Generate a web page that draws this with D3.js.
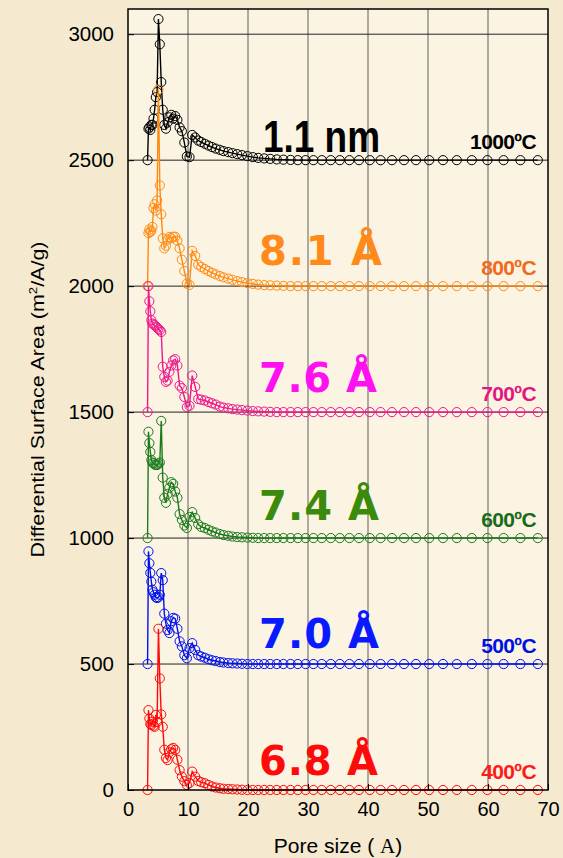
<!DOCTYPE html>
<html>
<head>
<meta charset="utf-8">
<script src="https://cdn.jsdelivr.net/npm/d3@7"></script>
<style>
  body { margin: 0; background: #f5ead0; }
  #chart { width: 563px; height: 858px; }
</style>
</head>
<body>
<div id="chart"></div>
<script>
// pore widths (Å) shared by every curve
const poreSize = [3.26, 3.41, 3.56, 3.72, 3.89, 4.07, 4.25, 4.44, 4.64, 4.85,
    5.07, 5.30, 5.54, 5.79, 6.05, 6.32, 6.60, 6.90, 7.21, 7.53,
    7.87, 8.23, 8.60, 8.98, 9.39, 9.81, 10.25, 10.7, 11.2, 11.7,
    12.2, 12.8, 13.4, 14.0, 14.6, 15.3, 15.9, 16.7, 17.4, 18.2,
    19.0, 19.9, 20.8, 21.7, 22.7, 23.7, 24.8, 25.9, 27.1, 28.3,
    29.6, 30.9, 32.3, 33.8, 35.3, 36.9, 38.5, 40.3, 42.1, 44.0,
    46.0, 48.0, 50.2, 52.5, 54.8, 57.3, 59.9, 62.6, 65.4, 68.3]

// curves are stacked with an offset of 500 each
const area1000 = [2500, 2625, 2630, 2620, 2640, 2640, 2665, 2700, 2750, 2770,
    3060, 2960, 2810, 2700, 2640, 2625, 2650, 2670, 2680, 2665,
    2675, 2660, 2630, 2615, 2570, 2515, 2512, 2600, 2590, 2578,
    2572, 2565, 2558, 2552, 2546, 2541, 2536, 2532, 2528, 2524,
    2520, 2516, 2512, 2509, 2507, 2505, 2503, 2502, 2501, 2500,
    2500, 2500, 2500, 2500, 2500, 2500, 2500, 2500, 2500, 2500,
    2500, 2500, 2500, 2500, 2500, 2500, 2500, 2500, 2500, 2500]
const area800 = [2000, 2210, 2225, 2215, 2220, 2235, 2310, 2325, 2300, 2340,
    2780, 2400, 2285, 2190, 2150, 2160, 2185, 2195, 2190, 2196,
    2196, 2180, 2150, 2105, 2060, 2010, 2005, 2140, 2120, 2085,
    2076, 2068, 2060, 2053, 2047, 2040, 2035, 2030, 2025, 2020,
    2016, 2012, 2009, 2006, 2004, 2003, 2002, 2001, 2000, 2000,
    2000, 2000, 2000, 2000, 2000, 2000, 2000, 2000, 2000, 2000,
    2000, 2000, 2000, 2000, 2000, 2000, 2000, 2000, 2000, 2000]
const area700 = [1500, 2000, 1940, 1900, 1865, 1852, 1848, 1845, 1840, 1835,
    1830, 1825, 1818, 1680, 1640, 1620, 1625, 1660, 1685, 1705,
    1710, 1685, 1605, 1595, 1560, 1520, 1525, 1645, 1600, 1552,
    1549, 1546, 1540, 1535, 1530, 1522, 1518, 1515, 1512, 1510,
    1508, 1506, 1504, 1503, 1502, 1501, 1500, 1500, 1500, 1500,
    1500, 1500, 1500, 1500, 1500, 1500, 1500, 1500, 1500, 1500,
    1500, 1500, 1500, 1500, 1500, 1500, 1500, 1500, 1500, 1500]
const area600 = [1000, 1422, 1377, 1342, 1310, 1300, 1297, 1292, 1290, 1290,
    1295, 1300, 1465, 1240, 1160, 1140, 1175, 1200, 1222, 1215,
    1185, 1160, 1095, 1072, 1050, 1040, 1084, 1103, 1080, 1055,
    1044, 1040, 1033, 1027, 1022, 1016, 1012, 1009, 1006, 1004,
    1003, 1002, 1001, 1000, 1000, 1000, 1000, 1000, 1000, 1000,
    1000, 1000, 1000, 1000, 1000, 1000, 1000, 1000, 1000, 1000,
    1000, 1000, 1000, 1000, 1000, 1000, 1000, 1000, 1000, 1000]
const area500 = [500, 947, 900, 862, 827, 795, 785, 775, 765, 762,
    765, 775, 861, 833, 700, 660, 635, 623, 670, 683,
    680, 640, 590, 570, 535, 523, 563, 583, 556, 535,
    530, 525, 519, 515, 512, 508, 506, 504, 503, 502,
    501, 500, 500, 500, 500, 500, 500, 500, 500, 500,
    500, 500, 500, 500, 500, 500, 500, 500, 500, 500,
    500, 500, 500, 500, 500, 500, 500, 500, 500, 500]
const area400 = [0, 317, 284, 262, 258, 271, 255, 251, 298, 270,
    640, 443, 300, 251, 160, 127, 119, 150, 162, 167,
    159, 120, 79, 53, 35, 20, 28, 73, 53, 36,
    31, 27, 20, 14, 10, 7, 5, 4, 3, 2,
    1, 0, 0, 0, 0, 0, 0, 0, 0, 0,
    0, 0, 0, 0, 0, 0, 0, 0, 0, 0,
    0, 0, 0, 0, 0, 0, 0, 0, 0, 0]

const temps = ["1000ºC", "800ºC", "700ºC", "600ºC", "500ºC", "400ºC"]
const baseValues = [2500, 2000, 1500, 1000, 500, 0]
const poreLabels = ["1.1 nm", "8.1 Å", "7.6 Å", "7.4 Å", "7.0 Å", "6.8 Å"]
const allSeries = [area1000, area800, area700, area600, area500, area400]

const xTicks = [0, 10, 20, 30, 40, 50, 60, 70]
const yTicks = [0, 500, 1000, 1500, 2000, 2500, 3000]

const lineColors = ["#000000", "#ff8a10", "#f0168c", "#1c7a1c", "#0010f0", "#ff0a0a"]
const tempColors = ["#000000", "#f06a1c", "#e4177f", "#1a6a1a", "#0010e0", "#ff1a1a"]
const bigColors = ["#000000", "#ff8a1a", "#ff10f0", "#3c8a0c", "#0a1aff", "#ff0a0a"]

const width = 563
const height = 858
const margin = {top: 9, right: 15, bottom: 68, left: 128}

let svg
let x
let y

document.addEventListener("DOMContentLoaded", setup)

function setup() {
    svg = d3.select("#chart").append("svg")
        .attr("width", width)
        .attr("height", height)

    x = d3.scaleLinear().domain([0, 70]).range([margin.left, width - margin.right])
    y = d3.scaleLinear().domain([0, 3100]).range([height - margin.bottom, margin.top])

    drawFrame()
    drawCurves()
    drawLabels()
    drawAxes()
}

function drawFrame() {
    svg.append("rect")
        .attr("x", x(0)).attr("y", y(3100))
        .attr("width", x(70) - x(0)).attr("height", y(0) - y(3100))
        .attr("fill", "#fbf4e3")

    svg.append("g")
        .selectAll("line")
        .data(xTicks.slice(1, -1))
        .enter()
        .append("line")
        .attr("x1", d => x(d)).attr("x2", d => x(d))
        .attr("y1", y(0)).attr("y2", y(3100))
        .attr("stroke", "#3a3a3a")
        .attr("stroke-width", 0.8)

    svg.append("g")
        .selectAll("line")
        .data(yTicks.slice(1))
        .enter()
        .append("line")
        .attr("x1", x(0)).attr("x2", x(70))
        .attr("y1", d => y(d)).attr("y2", d => y(d))
        .attr("stroke", "#222")
        .attr("stroke-width", 1)
}

function drawCurves() {
    const line = d3.line()
        .x(d => x(d[0]))
        .y(d => y(d[1]))

    allSeries.forEach((values, i) => {
        const points = poreSize.map((p, k) => [p, values[k]])
        const g = svg.append("g")
        g.append("path")
            .attr("d", line(points))
            .attr("fill", "none")
            .attr("stroke", lineColors[i])
            .attr("stroke-width", 1.4)
        g.selectAll("circle")
            .data(points)
            .enter()
            .append("circle")
            .attr("cx", d => x(d[0]))
            .attr("cy", d => y(d[1]))
            .attr("r", 4.6)
            .attr("fill", "none")
            .attr("stroke", lineColors[i])
            .attr("stroke-width", 1)
    })
}

function drawLabels() {
    // big pore-width labels, offsets in px above each baseline
    const bigOffset = [8, 21, 20, 18, 16, 15]
    const bigLength = [117, 123, 118, 120, 120, 119]
    svg.append("g")
        .selectAll("text")
        .data(poreLabels)
        .enter()
        .append("text")
        .attr("x", (d, i) => i === 0 ? 263 : 259)
        .attr("y", (d, i) => y(baseValues[i]) - bigOffset[i])
        .attr("textLength", (d, i) => bigLength[i])
        .attr("lengthAdjust", (d, i) => i === 0 ? "spacingAndGlyphs" : "spacing")
        .attr("font-family", (d, i) => i === 0 ? "'Liberation Sans', sans-serif" : "'DejaVu Sans', sans-serif")
        .attr("font-weight", "bold")
        .attr("font-size", (d, i) => i === 0 ? 44 : 40)
        .attr("fill", (d, i) => bigColors[i])
        .text(d => d)

    svg.append("g")
        .selectAll("text")
        .data(temps)
        .enter()
        .append("text")
        .attr("x", 536)
        .attr("y", (d, i) => y(baseValues[i]) - 11)
        .attr("text-anchor", "end")
        .attr("font-family", "'Liberation Sans', Arial, sans-serif")
        .attr("font-weight", "bold")
        .attr("font-size", 21)
        .attr("letter-spacing", -0.6)
        .attr("fill", (d, i) => tempColors[i])
        .text(d => d)
}

function drawAxes() {
    const font = "'Liberation Sans', Arial, sans-serif"

    const yAxis = svg.append("g")
        .attr("transform", "translate(" + x(0) + ",0)")
        .call(d3.axisLeft(y).tickValues(yTicks).tickFormat(d3.format("d"))
            .tickSize(-6).tickPadding(14).tickSizeOuter(0))
    const xAxis = svg.append("g")
        .attr("transform", "translate(0," + y(0) + ")")
        .call(d3.axisBottom(x).tickValues(xTicks).tickFormat(d3.format("d"))
            .tickSize(-6).tickPadding(12).tickSizeOuter(0))

    ;[yAxis, xAxis].forEach(a => {
        a.select(".domain").remove()
        a.selectAll(".tick line").attr("stroke", "#000")
        a.selectAll("text")
            .attr("font-family", font)
            .attr("fill", "#000")
    })
    yAxis.selectAll("text").attr("font-size", 20.5)
    xAxis.selectAll("text").attr("font-size", 20)

    // plot box
    svg.append("rect")
        .attr("x", x(0)).attr("y", y(3100))
        .attr("width", x(70) - x(0)).attr("height", y(0) - y(3100))
        .attr("fill", "none")
        .attr("stroke", "#000")
        .attr("stroke-width", 1.5)

    const xTitle = svg.append("text")
        .attr("x", (x(0) + x(70)) / 2)
        .attr("y", 853)
        .attr("text-anchor", "middle")
        .attr("font-family", font)
        .attr("font-size", 21)
    xTitle.append("tspan").text("Pore size ( ")
    xTitle.append("tspan").attr("font-family", "'Liberation Serif', serif").text("A")
    xTitle.append("tspan").text(")")

    const yTitle = svg.append("text")
        .attr("transform", "translate(44," + ((y(0) + y(3100)) / 2) + ") rotate(-90)")
        .attr("text-anchor", "middle")
        .attr("font-family", font)
        .attr("font-size", 18)
        .attr("textLength", 316)
        .attr("lengthAdjust", "spacingAndGlyphs")
    yTitle.append("tspan").text("Differential Surface Area (m")
    yTitle.append("tspan").attr("font-size", 11).attr("dy", -7).text("2")
    yTitle.append("tspan").attr("dy", 7).text("/A/g)")
}
</script>
</body>
</html>
